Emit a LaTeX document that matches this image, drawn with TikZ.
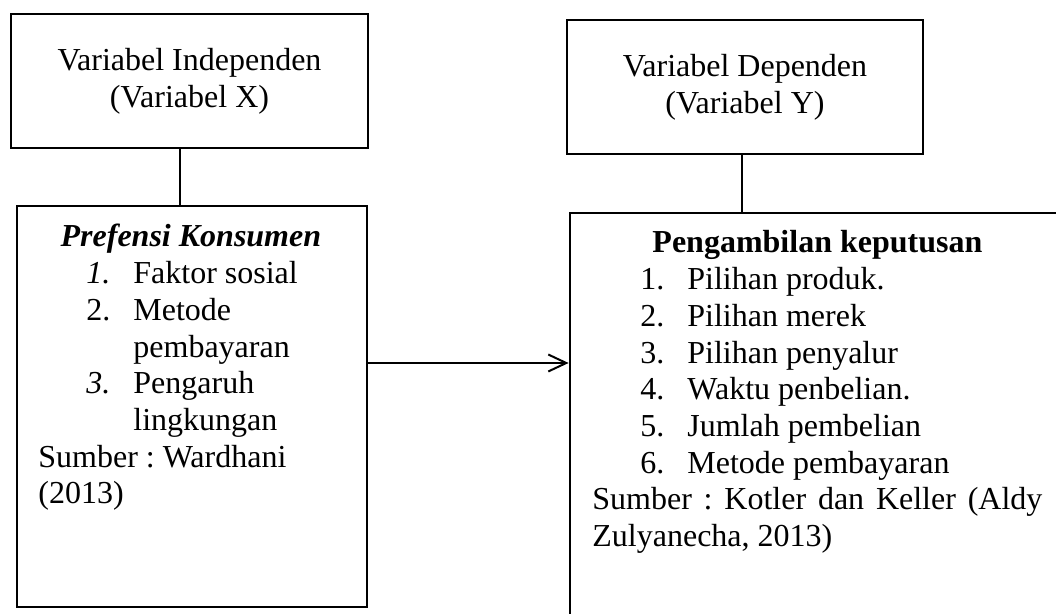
\documentclass[tikz,border=0pt]{standalone}
\usepackage{fontspec}
\setmainfont{Liberation Serif}
\usetikzlibrary{arrows.meta}
\newcommand{\listnum}[1]{\hspace*{24pt}\makebox[23.5pt][l]{#1}}

\begin{document}
\begin{tikzpicture}[x=0.5pt,y=-0.5pt,
      font=\fontsize{16}{18.35}\selectfont\frenchspacing,
      box/.style={
        % The shape:
        rectangle,inner sep=0pt,
        % The rest
        line width=1.4pt,draw=black,align=center},
      boxtext/.style={anchor=base west,inner sep=0pt,align=justify}]
    \useasboundingbox (0,0) rectangle (1056,614);
    \clip (0,0) rectangle (1056,614);
    \node(indep)[box, minimum width=178.5pt, minimum height=67pt] at (189.5,81) {Variabel Independen\\(Variabel X)};
    \node(dep)[box, minimum width=178pt, minimum height=67pt] at (745,87) {Variabel Dependen\\(Variabel Y)};
    \node(pref)[box, minimum width=175pt, minimum height=200.5pt] at (192,406.5) {};
    \node(dec)[box, minimum width=250pt, minimum height=208.5pt] at (820,421.5) {};
    \node(preftext)[boxtext, text width=159.5pt] at (38,247) {%
      \makebox[152.5pt]{\textbf{\textit{Prefensi Konsumen}}}\\
      \listnum{\textit{1.}}Faktor sosial\\
      \listnum{2.}Metode\\
      \hspace*{47.5pt}pembayaran\\
      \listnum{\textit{3.}}Pengaruh\\
      \hspace*{47.5pt}lingkungan\\
      Sumber : Wardhani\\
      (2013)};
    \node(dectext)[boxtext, text width=225pt] at (592,253) {%
      \makebox[\linewidth]{\textbf{Pengambilan keputusan}}\\
      \listnum{1.}Pilihan produk.\\
      \listnum{2.}Pilihan merek\\
      \listnum{3.}Pilihan penyalur\\
      \listnum{4.}Waktu penbelian.\\
      \listnum{5.}Jumlah pembelian\\
      \listnum{6.}Metode pembayaran\\
      Sumber : Kotler dan Keller (Aldy Zulyanecha, 2013)};
    \path (180,0 |- indep.south) edge[line width=1pt] (180,0 |- pref.north);
    \path (742,0 |- dep.south) edge[line width=1pt] (742,0 |- dec.north);
    \path (pref.east |- 0,363) edge[line width=1pt, -{Straight Barb[length=9pt,width=8.5pt]}] (dec.west |- 0,363);
  \end{tikzpicture}
\end{document}
